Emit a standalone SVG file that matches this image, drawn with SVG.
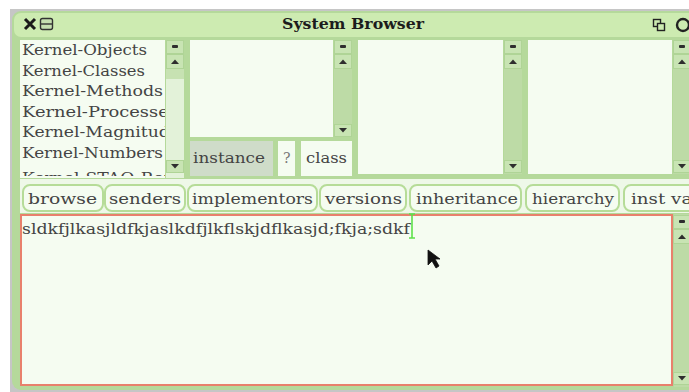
<svg xmlns="http://www.w3.org/2000/svg" width="689" height="392" viewBox="0 0 689 392">
<defs>
<style>
.t{font-family:"DejaVu Serif","Liberation Serif",serif;font-size:14px;fill:#444444}
.pane{fill:#f5fcf1}
.sb{fill:#bddba6}
.sbb{fill:#c8e4b3;stroke:#afd496;stroke-width:1}
.ic{fill:#2e2e2e}
.btn{fill:#f5fcf1;stroke:#b6dc98;stroke-width:2}
</style>
<clipPath id="c1"><rect x="20" y="40" width="145" height="136"/></clipPath>
<g id="sbtop">
<rect class="sbb" x="0.5" y="0.5" width="17" height="13"/>
<rect class="ic" x="6" y="5" width="6" height="3" rx="1"/>
<rect class="sbb" x="0.5" y="14.5" width="17" height="14"/>
<path class="ic" d="M5 24 L9 19.5 L13 24 Z"/>
</g>
<g id="sbdown">
<rect class="sbb" x="0.5" y="0.5" width="17" height="12"/>
<path class="ic" d="M5 4 L13 4 L9 8.5 Z"/>
</g>
</defs>
<rect x="0" y="0" width="689" height="392" fill="#ffffff"/>
<rect x="10" y="9" width="679" height="383" fill="#c6c6c6"/>
<g id="window">
<rect x="12" y="11" width="700" height="379" rx="9" fill="#b5d99b"/>
<rect x="14" y="13" width="696" height="24" rx="7" fill="#cdebb1"/>
</g>
<g id="titlebar">
<path d="M25 19 L35 29 M35 19 L25 29" stroke="#1a1a1a" stroke-width="3"/>
<rect x="40.5" y="18.5" width="12" height="11" rx="2" fill="#c6dfb1" stroke="#333" stroke-width="1.4"/>
<line x1="41" y1="24" x2="52" y2="24" stroke="#333" stroke-width="1.4"/>
<text x="353" y="29" text-anchor="middle" font-family="'DejaVu Serif','Liberation Serif',serif" font-size="15" font-weight="bold" fill="#1c1c1c" textLength="142" lengthAdjust="spacingAndGlyphs">System Browser</text>
<rect x="653.5" y="19.5" width="7" height="7" fill="none" stroke="#222" stroke-width="1.4"/>
<rect x="657.5" y="23.5" width="7" height="7" fill="#cdebb1" stroke="#222" stroke-width="1.4"/>
<circle cx="683" cy="25" r="6" fill="none" stroke="#222" stroke-width="2.4"/>
</g>
<g id="pane-categories">
<rect class="pane" x="20" y="40" width="145" height="138"/>
<g clip-path="url(#c1)">
<text class="t" x="22" y="55" textLength="125" lengthAdjust="spacingAndGlyphs">Kernel-Objects</text>
<text class="t" x="22" y="76" textLength="123" lengthAdjust="spacingAndGlyphs">Kernel-Classes</text>
<text class="t" x="22" y="96" textLength="141" lengthAdjust="spacingAndGlyphs">Kernel-Methods</text>
<text class="t" x="22" y="117" textLength="156" lengthAdjust="spacingAndGlyphs">Kernel-Processes</text>
<text class="t" x="22" y="137" textLength="158" lengthAdjust="spacingAndGlyphs">Kernel-Magnitude</text>
<text class="t" x="22" y="158" textLength="141" lengthAdjust="spacingAndGlyphs">Kernel-Numbers</text>
<text class="t" x="22" y="183" textLength="150" lengthAdjust="spacingAndGlyphs">Kernel-STAO-Bor</text>
</g>
<rect x="166" y="40" width="18" height="138" fill="#e3f2d9"/>
<rect x="166" y="69" width="18" height="10" fill="#c7e2b2"/>
<use href="#sbtop" x="166" y="40"/>
<use href="#sbdown" x="166" y="160"/>
</g>
<g id="pane-classes">
<rect class="pane" x="190" y="40" width="143" height="97"/>
<rect class="sb" x="334" y="40" width="18" height="97"/>
<use href="#sbtop" x="334" y="40"/>
<use href="#sbdown" x="334" y="124"/>
<rect x="190" y="141" width="83" height="35" fill="#cfdcc9"/>
<text class="t" x="193" y="163" textLength="72" lengthAdjust="spacingAndGlyphs">instance</text>
<rect class="pane" x="278" y="141" width="17" height="35"/>
<text class="t" x="283" y="163" style="fill:#777">?</text>
<rect class="pane" x="301" y="141" width="51" height="35"/>
<text class="t" x="306" y="163" textLength="41" lengthAdjust="spacingAndGlyphs">class</text>
</g>
<g id="pane-protocols">
<rect class="pane" x="358" y="40" width="145" height="134"/>
<rect class="sb" x="504" y="40" width="18" height="134"/>
<use href="#sbtop" x="504" y="40"/>
<use href="#sbdown" x="504" y="160"/>
</g>
<g id="pane-methods">
<rect class="pane" x="528" y="40" width="144" height="134"/>
<rect class="sb" x="673" y="40" width="18" height="134"/>
<use href="#sbtop" x="673" y="40"/>
<use href="#sbdown" x="673" y="160"/>
</g>
<g id="buttons">
<rect x="20" y="179" width="672" height="34" fill="#eef8e8"/>
<rect class="btn" x="23" y="185" width="80" height="26" rx="7"/>
<text class="t" x="28" y="204" textLength="69" lengthAdjust="spacingAndGlyphs">browse</text>
<rect class="btn" x="105" y="185" width="80" height="26" rx="7"/>
<text class="t" x="109" y="204" textLength="72" lengthAdjust="spacingAndGlyphs">senders</text>
<rect class="btn" x="188" y="185" width="129" height="26" rx="7"/>
<text class="t" x="192" y="204" textLength="121" lengthAdjust="spacingAndGlyphs">implementors</text>
<rect class="btn" x="320" y="185" width="86" height="26" rx="7"/>
<text class="t" x="325" y="204" textLength="77" lengthAdjust="spacingAndGlyphs">versions</text>
<rect class="btn" x="410" y="185" width="111" height="26" rx="7"/>
<text class="t" x="416" y="204" textLength="102" lengthAdjust="spacingAndGlyphs">inheritance</text>
<rect class="btn" x="526" y="185" width="93" height="26" rx="7"/>
<text class="t" x="532" y="204" textLength="82" lengthAdjust="spacingAndGlyphs">hierarchy</text>
<rect class="btn" x="624" y="185" width="80" height="26" rx="7"/>
<text class="t" x="631" y="204" textLength="70" lengthAdjust="spacingAndGlyphs">inst var</text>
</g>
<g id="code-pane">
<rect x="21" y="215" width="651" height="170" fill="#f5fcf1" stroke="#e8806c" stroke-width="2"/>
<text class="t" x="22" y="234" textLength="388" lengthAdjust="spacingAndGlyphs">sldkfjlkasjldfkjaslkdfjlkflskjdflkasjd;fkja;sdkf</text>
<path d="M412 214 L412 238 M409 214 L415 214 M409 238 L415 238" stroke="#5ee04a" stroke-width="1.6" fill="none"/>
<rect class="sb" x="674" y="214" width="18" height="173"/>
<use href="#sbtop" x="673" y="215"/>
<use href="#sbdown" x="673" y="372"/>
</g>
<g id="pointer">
<path d="M428 250 L428 265 L432 261 L436 268 L439 266 L435 259 L440 259 Z" fill="#111" stroke="#111" stroke-width="0.8"/>
</g>
</svg>
